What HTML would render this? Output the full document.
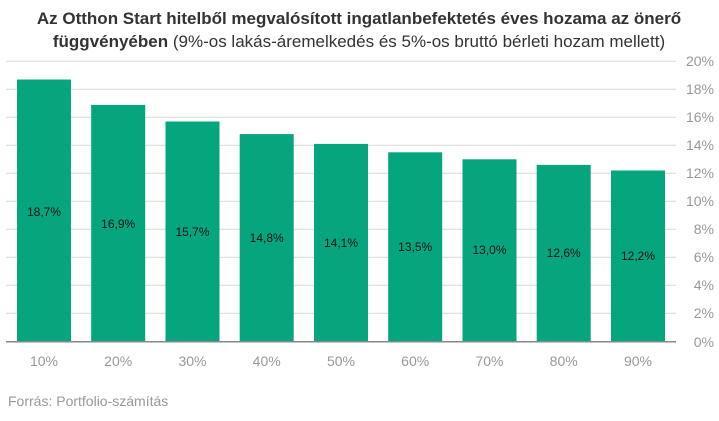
<!DOCTYPE html><html><head><style>body{margin:0;background:#fff;font-family:"Liberation Sans",sans-serif}</style></head><body>
<svg width="719" height="416" xmlns="http://www.w3.org/2000/svg" font-family="Liberation Sans, sans-serif">
<text x="359" y="24" text-anchor="middle" font-size="17" font-weight="bold" fill="#333">Az Otthon Start hitelből megvalósított ingatlanbefektetés éves hozama az önerő</text>
<text x="359" y="47" text-anchor="middle" font-size="17" fill="#333"><tspan font-weight="bold">függvényében</tspan> (9%-os lakás-áremelkedés és 5%-os bruttó bérleti hozam mellett)</text>
<g stroke="#ddd" stroke-width="1.2">
<line x1="6" x2="676" y1="61.3" y2="61.3"/><line x1="6" x2="676" y1="89.3" y2="89.3"/><line x1="6" x2="676" y1="117.3" y2="117.3"/><line x1="6" x2="676" y1="145.3" y2="145.3"/><line x1="6" x2="676" y1="173.3" y2="173.3"/><line x1="6" x2="676" y1="201.3" y2="201.3"/><line x1="6" x2="676" y1="229.3" y2="229.3"/><line x1="6" x2="676" y1="257.3" y2="257.3"/><line x1="6" x2="676" y1="285.3" y2="285.3"/><line x1="6" x2="676" y1="313.3" y2="313.3"/>
</g>
<g fill="#05a57e">
<rect x="17" y="79.5" width="54" height="261.8"/>
<rect x="91.2" y="104.9" width="54" height="236.4"/>
<rect x="165.5" y="121.5" width="54" height="219.8"/>
<rect x="239.7" y="134.1" width="54" height="207.2"/>
<rect x="314" y="143.9" width="54" height="197.4"/>
<rect x="388.2" y="152.3" width="54" height="189"/>
<rect x="462.5" y="159.3" width="54" height="182"/>
<rect x="536.7" y="164.9" width="54" height="176.4"/>
<rect x="611" y="170.5" width="54" height="170.8"/>
</g>
<line x1="6" x2="676" y1="341.8" y2="341.8" stroke="#888" stroke-width="1.5"/>
<g font-size="12" fill="#111" text-anchor="middle">
<text x="44" y="216">18,7%</text><text x="118.2" y="228">16,9%</text><text x="192.5" y="236">15,7%</text><text x="266.7" y="242">14,8%</text><text x="341" y="247">14,1%</text><text x="415.2" y="251">13,5%</text><text x="489.5" y="254">13,0%</text><text x="563.7" y="257">12,6%</text><text x="638" y="260">12,2%</text>
</g>
<g font-size="14" fill="#999" text-anchor="middle">
<text x="44" y="366">10%</text><text x="118.2" y="366">20%</text><text x="192.5" y="366">30%</text><text x="266.7" y="366">40%</text><text x="341" y="366">50%</text><text x="415.2" y="366">60%</text><text x="489.5" y="366">70%</text><text x="563.7" y="366">80%</text><text x="638" y="366">90%</text>
</g>
<g font-size="14" fill="#999" text-anchor="end">
<text x="714" y="66">20%</text><text x="714" y="94">18%</text><text x="714" y="122">16%</text><text x="714" y="150">14%</text><text x="714" y="178">12%</text><text x="714" y="206">10%</text><text x="714" y="234">8%</text><text x="714" y="262">6%</text><text x="714" y="290">4%</text><text x="714" y="318">2%</text><text x="714" y="347">0%</text>
</g>
<text x="8" y="406" font-size="14" fill="#999">Forrás: Portfolio-számítás</text>
</svg></body></html>
